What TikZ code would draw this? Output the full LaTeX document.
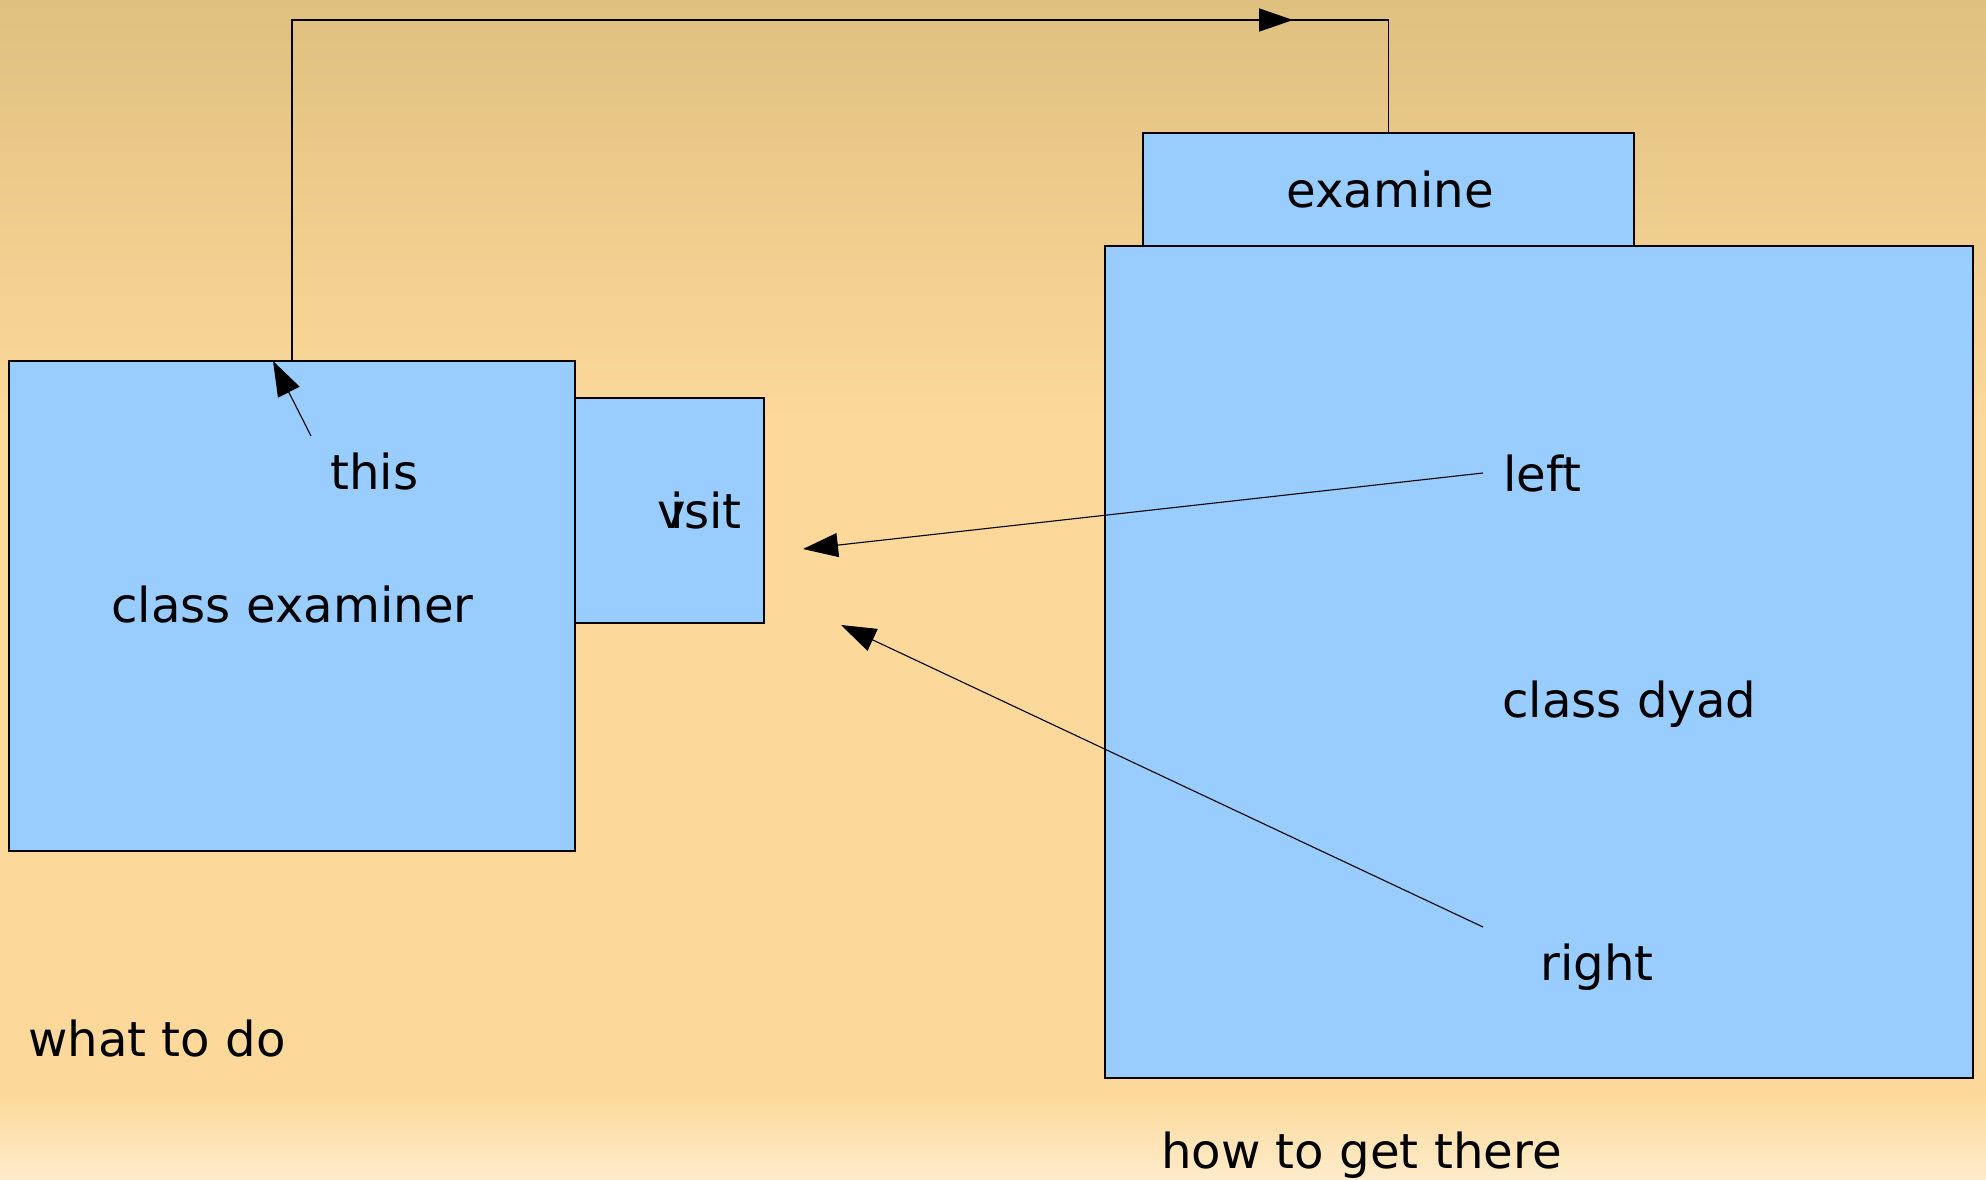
\documentclass[tikz,border=0pt]{standalone}
\usepackage{fontspec}
\setmainfont{DejaVu Sans}
\usetikzlibrary{arrows.meta}
\definecolor{boxblue}{RGB}{153,204,255}
\definecolor{bgtop}{RGB}{223,192,127}
\definecolor{bgmid}{RGB}{252,217,155}
\definecolor{bgbot}{RGB}{255,236,203}
\begin{document}
\begin{tikzpicture}[x=1pt,y=-1pt,
  box/.style={draw=black, fill=boxblue, line width=1.1pt, inner sep=0pt},
  lbl/.style={anchor=base west, inner sep=0pt, font=\fontsize{48.2}{58}\selectfont},
  wire/.style={draw=black, line width=1.1pt},
  arr/.style={wire, -{Triangle[length=35pt, width=24pt]}}]
\useasboundingbox (0,0) rectangle (1986,1180);

% background
\shade[top color=bgtop, bottom color=bgmid] (0,0) rectangle (1986,421);
\fill[bgmid] (0,420) rectangle (1986,1096);
\shade[top color=bgmid, bottom color=bgbot] (0,1095) rectangle (1986,1180);

% boxes
\node[box, minimum width=566pt, minimum height=490pt] (examiner) at (292,606) {};
\node[box, minimum width=189pt, minimum height=225pt] (visitbox) at (669.5,510.5) {};
\node[box, minimum width=491pt, minimum height=114pt] (examinebox) at (1388.5,190) {};
\node[box, minimum width=868pt, minimum height=832pt] (dyad) at (1539,662) {};

% loop from examiner to examine
\coordinate (loopl) at (292,20);
\coordinate (loopr) at (1388.5,20);
\coordinate (heada) at (992,20);
\coordinate (headb) at (1293,20);
\draw[wire] (examiner.north) -- (loopl) -- (loopr) -- (examinebox.north);
\draw[wire, line width=1.8pt, -{Triangle[length=34pt, width=23pt]}] (heada) -- (headb);

% pointers
\coordinate (thistail) at (311,436);
\coordinate (thistip) at (273,361);
\coordinate (lefttail) at (1483,473);
\coordinate (lefttip) at (803,549);
\coordinate (righttail) at (1483,927);
\coordinate (righttip) at (841,625);
\draw[arr] (thistail) -- (thistip);
\draw[arr] (lefttail) -- (lefttip);
\draw[arr] (righttail) -- (righttip);

% texts
\node[lbl] (this) at (330,489) {this};
\node[lbl] (classexaminer) at (111,622) {class examiner};
\node[lbl] (visit) at (657,528) {v\kern-0.31em isit};
\node[lbl] (examine) at (1286,207) {examine};
\node[lbl] (left) at (1503,491) {left};
\node[lbl] (classdyad) at (1502,717) {class dyad};
\node[lbl] (right) at (1540,980) {right};
\node[lbl] (whattodo) at (28,1056) {what to do};
\node[lbl] (howto) at (1161,1168) {how to get there};
\end{tikzpicture}
\end{document}
